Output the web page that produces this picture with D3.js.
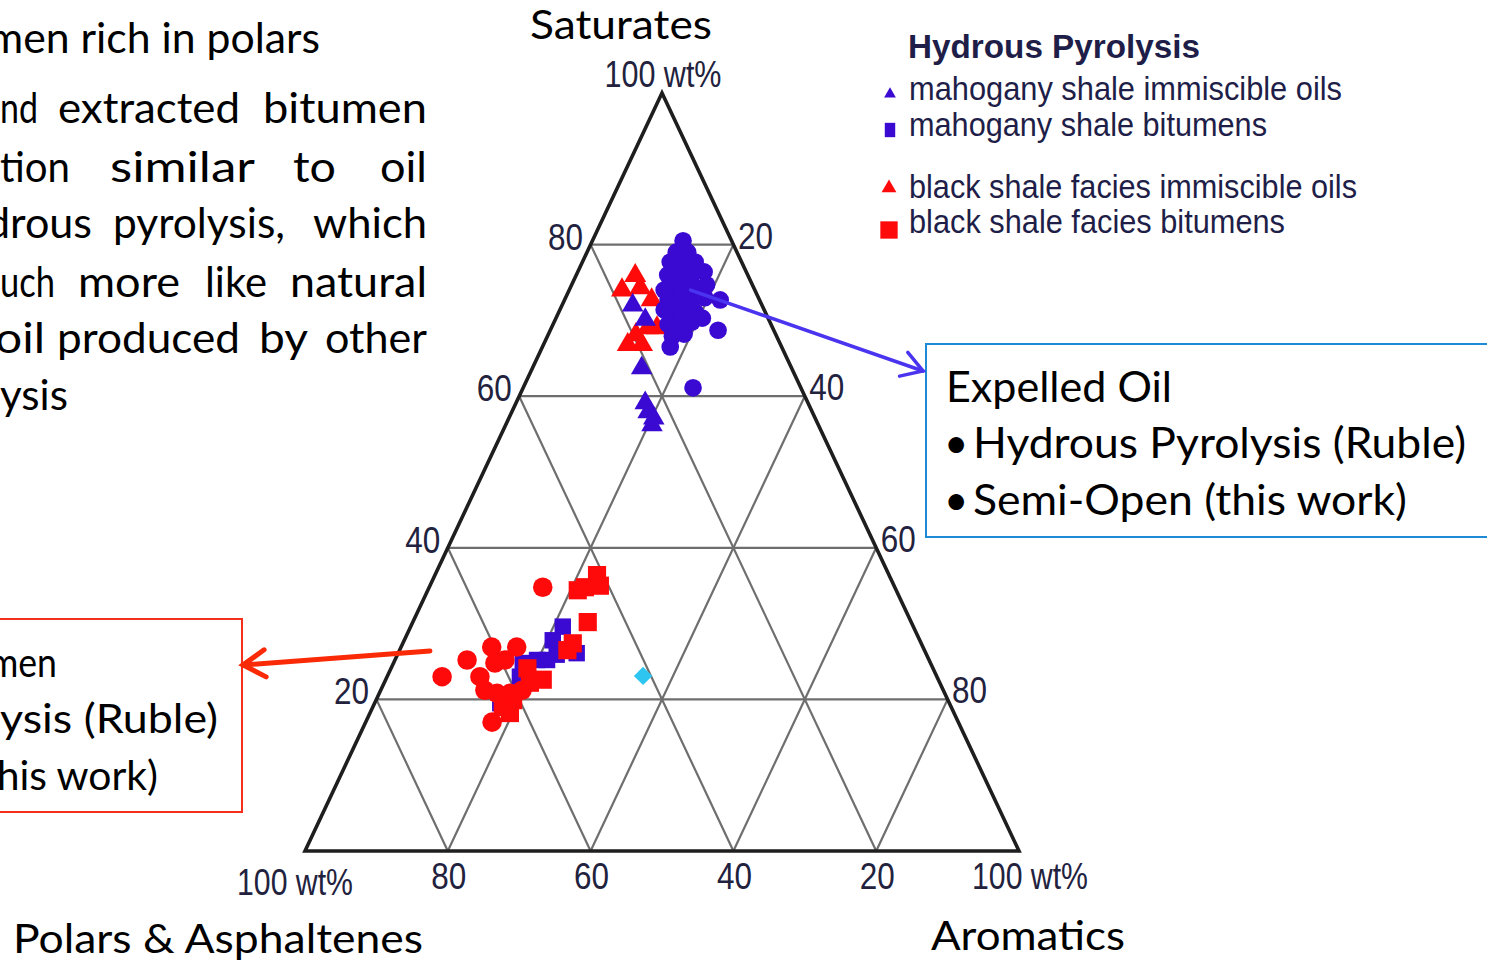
<!DOCTYPE html>
<html>
<head>
<meta charset="utf-8">
<script src="https://cdn.jsdelivr.net/npm/d3@7/dist/d3.min.js"></script>
<style>
  html, body { margin: 0; padding: 0; background: #ffffff; overflow: hidden; }
  svg { display: block; }
</style>
</head>
<body>
<svg id="chart" width="1487" height="962"></svg>
<script>
// Compositions as [saturates wt%, aromatics wt%]; polars & asphaltenes = remainder.

// Hydrous pyrolysis, mahogany shale immiscible oils (blue triangles)
const mahoganyOils = [
  [72.0, 9.9], [70.1, 12.6], [63.7, 15.3], [59.1, 18.1],
  [57.9, 19.1], [56.2, 20.5], [57.1, 20.3]
];
// Hydrous pyrolysis, mahogany shale bitumens (blue squares)
const mahoganyBitumens = [
  [29.6, 21.3], [27.8, 20.8], [25.9, 22.3], [25.2, 21.3], [25.2, 19.9],
  [24.8, 18.1], [23.0, 18.6], [26.1, 25.0], [19.5, 17.6]
];
// Hydrous pyrolysis, black shale facies immiscible oils (red triangles)
const blackShaleOils = [
  [74.0, 7.4], [75.9, 8.3], [74.3, 9.8], [72.7, 12.2], [69.0, 13.5],
  [66.8, 11.8], [66.8, 13.8], [68.1, 12.3], [69.0, 14.8]
];
// Hydrous pyrolysis, black shale facies bitumens (red squares)
const blackShaleBitumens = [
  [36.4, 22.7], [34.8, 21.8], [35.0, 23.8], [34.4, 21.0], [30.2, 24.5],
  [27.4, 23.8], [26.5, 23.5], [24.1, 19.1], [22.6, 22.0], [22.2, 20.4],
  [19.9, 19.2], [19.0, 18.2], [18.2, 19.6]
];
// Semi-open pyrolysis, expelled oils (blue circles)
const semiOpenOils = [
  [80.5, 12.7], [79.0, 12.5], [79.0, 14.1], [77.7, 12.3], [77.7, 14.0],
  [77.7, 15.8], [76.0, 12.8], [76.1, 14.5], [76.0, 16.2], [76.4, 17.7],
  [74.3, 14.0], [74.3, 15.7], [74.4, 17.3], [74.7, 18.9], [72.7, 14.5],
  [72.7, 16.2], [72.7, 17.9], [73.0, 19.5], [71.1, 15.6], [71.1, 17.3],
  [71.1, 19.1], [69.5, 16.1], [69.5, 17.8], [69.8, 19.3], [67.9, 17.5],
  [68.2, 19.0], [66.5, 17.9], [72.7, 21.8], [68.7, 23.5], [61.1, 23.8],
  [74.0, 13.3], [71.4, 14.6], [70.3, 20.5]
];
// Semi-open pyrolysis, extracted bitumens (red circles)
const semiOpenBitumens = [
  [34.8, 15.9], [23.0, 7.7], [25.2, 10.1], [26.9, 12.7], [26.9, 16.2],
  [23.0, 13.0], [24.8, 14.2], [20.8, 16.5], [20.8, 18.3], [21.2, 19.8],
  [19.0, 18.8], [17.0, 17.7], [25.2, 15.4], [21.2, 14.6]
];
// Single reference sample (cyan diamond)
const referenceSample = [[23.1, 35.8]];

const gridTicks = [20, 40, 60, 80];
const cornerLabel = "100 wt%";
const axisNames = { top: "Saturates", left: "Polars & Asphaltenes", right: "Aromatics" };

const legendTitle = "Hydrous Pyrolysis";
const legendItems = [
  { label: "mahogany shale immiscible oils", shape: "triangle", color: "#3a0ad2" },
  { label: "mahogany shale bitumens", shape: "square", color: "#3a0ad2" },
  { label: "black shale facies immiscible oils", shape: "triangle", color: "#ff0a0a" },
  { label: "black shale facies bitumens", shape: "square", color: "#ff0a0a" }
];

// ---------------------------------------------------------------------------
const BLUE = "#3a0ad2", RED = "#ff0a0a", CYAN = "#2ec6f0";
const svg = d3.select("#chart");

const sansText = "Lato, 'Open Sans', sans-serif";
const narrowText = "'Liberation Sans Narrow', 'Arial Narrow', 'Liberation Sans', Arial, sans-serif";

// Ternary projection: saturates sets height, aromatics shifts along the base
const yS = d3.scaleLinear().domain([0, 100]).range([851, 93]);
const xBase = d3.scaleLinear().domain([0, 100]).range([305, 1019]);
const proj = (s, a) => [xBase(a + s / 2), yS(s)];

// Grid lines (constant saturates, aromatics and polars)
const gridLines = [];
gridTicks.forEach(v => {
  gridLines.push([proj(v, 0), proj(v, 100 - v)]);
  gridLines.push([proj(0, v), proj(100 - v, v)]);
  gridLines.push([proj(0, 100 - v), proj(100 - v, 0)]);
});
const line = d3.line();
svg.append("g")
  .selectAll("path")
  .data(gridLines)
  .join("path")
  .attr("d", d => line(d))
  .attr("fill", "none")
  .attr("stroke", "#6e6e6e")
  .attr("stroke-width", 2.2);

// Outer triangle
svg.append("path")
  .attr("d", line([proj(0, 0), proj(100, 0), proj(0, 100)]) + "Z")
  .attr("fill", "none")
  .attr("stroke", "#1e1e1e")
  .attr("stroke-width", 3.6)
  .attr("stroke-linejoin", "miter");

// Tick labels
const tickG = svg.append("g")
  .attr("font-family", narrowText)
  .attr("font-size", 36)
  .attr("fill", "#22223e")
  .attr("text-anchor", "middle");

function tickText(x, y, txt, w) {
  tickG.append("text")
    .attr("x", x).attr("y", y)
    .attr("textLength", w)
    .attr("lengthAdjust", "spacingAndGlyphs")
    .text(txt);
}
gridTicks.forEach(v => {
  const [lx, ly] = proj(v, 0);          // saturates along left edge
  tickText(lx - 25, ly + 5, String(v), 35);
  const [rx, ry] = proj(100 - v, v);    // aromatics along right edge
  tickText(rx + 22, ry + 4, String(v), 35);
  const [bx, by] = proj(0, 100 - v);    // polars along base
  tickText(bx + 1, by + 38, String(v), 35);
});
{
  const [tx, ty] = proj(100, 0);
  tickText(tx + 1, ty - 6, cornerLabel, 117);
  const [lx, ly] = proj(0, 0);
  tickText(lx - 10, ly + 44, cornerLabel, 116);
  const [rx, ry] = proj(0, 100);
  tickText(rx + 11, ry + 38, cornerLabel, 116);
}

// Markers
function drawSymbols(data, type, size, color, extra) {
  const g = svg.append("g");
  g.selectAll("path")
    .data(data)
    .join("path")
    .attr("d", d3.symbol().type(type).size(size))
    .attr("transform", d => {
      const [x, y] = proj(d[0], d[1]);
      return `translate(${x},${y})` + (extra || "");
    })
    .attr("fill", color);
}
drawSymbols(blackShaleOils, d3.symbolTriangle, 210, RED);
drawSymbols(mahoganyOils, d3.symbolTriangle, 200, BLUE);
drawSymbols(semiOpenOils, d3.symbolCircle, 245, BLUE);
drawSymbols(mahoganyBitumens, d3.symbolSquare, 270, BLUE);
drawSymbols(semiOpenBitumens, d3.symbolCircle, 300, RED);
drawSymbols(blackShaleBitumens, d3.symbolSquare, 330, RED);
drawSymbols(referenceSample, d3.symbolSquare, 170, CYAN, " rotate(45)");

// Axis names
const nameG = svg.append("g")
  .attr("font-family", sansText)
  .attr("font-size", 41)
  .attr("fill", "#000");
nameG.append("text").attr("x", 530).attr("y", 39)
  .attr("textLength", 182).attr("lengthAdjust", "spacingAndGlyphs").text(axisNames.top);
nameG.append("text").attr("x", 13).attr("y", 953)
  .attr("textLength", 410).attr("lengthAdjust", "spacingAndGlyphs").text(axisNames.left);
nameG.append("text").attr("x", 931).attr("y", 950)
  .attr("textLength", 194).attr("lengthAdjust", "spacingAndGlyphs").text(axisNames.right);

// Legend
const legG = svg.append("g")
  .attr("font-family", narrowText)
  .attr("fill", "#1e1e48");
legG.append("text")
  .attr("x", 908).attr("y", 58)
  .attr("font-size", 34).attr("font-weight", "bold")
  .attr("textLength", 292).attr("lengthAdjust", "spacingAndGlyphs")
  .text(legendTitle);
const legRows = [
  { y: 100, w: 433, my: 94 },
  { y: 136, w: 358, my: 130 },
  { y: 198, w: 448, my: 188 },
  { y: 233, w: 376, my: 230 }
];
legendItems.forEach((it, i) => {
  const r = legRows[i];
  legG.append("text")
    .attr("x", 909).attr("y", r.y)
    .attr("font-size", 33)
    .attr("textLength", r.w).attr("lengthAdjust", "spacingAndGlyphs")
    .text(it.label);
  const big = it.color === RED;
  const sym = it.shape === "triangle"
    ? d3.symbol().type(d3.symbolTriangle).size(big ? 95 : 60)
    : d3.symbol().type(d3.symbolSquare).size(big ? 300 : 170);
  legG.append("path")
    .attr("d", sym)
    .attr("transform", `translate(${big ? 889 : 890},${r.my})` + (it.shape === "square" && !big ? " scale(0.8,1.1)" : ""))
    .attr("fill", it.color);
});

// Left-hand body text (justified paragraph, words placed individually)
const bodyLines = [
  { y: 53,  words: [["men rich in polars", -12, 332]] },
  { y: 123, words: [["nd", 0, 38], ["extracted", 58, 182], ["bitumen", 263, 164]] },
  { y: 182, words: [["tion", 0, 70], ["similar", 110, 145], ["to", 293, 43], ["oil", 380, 47]] },
  { y: 238, words: [["drous", -14, 106], ["pyrolysis,", 113, 172], ["which", 313, 114]] },
  { y: 297, words: [["uch", 0, 55], ["more", 78, 102], ["like", 205, 62], ["natural", 290, 137]] },
  { y: 353, words: [["oil", -5, 50], ["produced", 57, 183], ["by", 259, 49], ["other", 325, 102]] },
  { y: 410, words: [["ysis", 0, 68]] }
];
const bodyG = svg.append("g")
  .attr("font-family", sansText)
  .attr("font-size", 43)
  .attr("fill", "#000");
bodyLines.forEach(l => {
  l.words.forEach(([t, x, w]) => {
    bodyG.append("text")
      .attr("x", x).attr("y", l.y)
      .attr("textLength", w).attr("lengthAdjust", "spacingAndGlyphs")
      .text(t);
  });
});

// Bitumen call-out box
svg.append("rect")
  .attr("x", -10).attr("y", 619).attr("width", 252).attr("height", 193)
  .attr("fill", "none").attr("stroke", "#f2301c").attr("stroke-width", 2);
const redBoxText = [
  ["men", -11, 677, 68],
  ["ysis (Ruble)", 0, 733, 218],
  ["this work)", -18, 790, 176]
];
const rbG = svg.append("g").attr("font-family", sansText).attr("font-size", 41).attr("fill", "#000");
redBoxText.forEach(([t, x, y, w]) => {
  rbG.append("text").attr("x", x).attr("y", y)
    .attr("textLength", w).attr("lengthAdjust", "spacingAndGlyphs").text(t);
});

// Expelled oil call-out box
svg.append("rect")
  .attr("x", 926).attr("y", 344).attr("width", 600).attr("height", 193)
  .attr("fill", "none").attr("stroke", "#1f8ad6").attr("stroke-width", 2);
const bbG = svg.append("g").attr("font-family", sansText).attr("font-size", 42).attr("fill", "#000");
bbG.append("text").attr("x", 946).attr("y", 402)
  .attr("textLength", 226).attr("lengthAdjust", "spacingAndGlyphs").text("Expelled Oil");
bbG.append("text").attr("x", 944).attr("y", 458).text("\u2022");
bbG.append("text").attr("x", 973).attr("y", 458)
  .attr("textLength", 493).attr("lengthAdjust", "spacingAndGlyphs").text("Hydrous Pyrolysis (Ruble)");
bbG.append("text").attr("x", 944).attr("y", 515).text("\u2022");
bbG.append("text").attr("x", 973).attr("y", 515)
  .attr("textLength", 434).attr("lengthAdjust", "spacingAndGlyphs").text("Semi-Open (this work)");

// Pointer arrows from the clusters to the call-out boxes
function arrow(from, to, color, width, armLen, armAngle) {
  const g = svg.append("g")
    .attr("stroke", color).attr("stroke-width", width)
    .attr("stroke-linecap", "round").attr("fill", "none");
  g.append("path").attr("d", line([from, to]));
  const ang = Math.atan2(from[1] - to[1], from[0] - to[0]);
  const a1 = [to[0] + armLen * Math.cos(ang + armAngle), to[1] + armLen * Math.sin(ang + armAngle)];
  const a2 = [to[0] + armLen * Math.cos(ang - armAngle), to[1] + armLen * Math.sin(ang - armAngle)];
  g.append("path").attr("d", line([a1, to, a2])).attr("stroke-linejoin", "miter");
}
arrow(proj(74, 17), [923, 371], "#4a34f0", 3.5, 24, 0.55);
arrow(proj(26.4, 4.3), [243, 665], "#fa2a06", 5, 26, 0.55);
</script>
</body>
</html>
